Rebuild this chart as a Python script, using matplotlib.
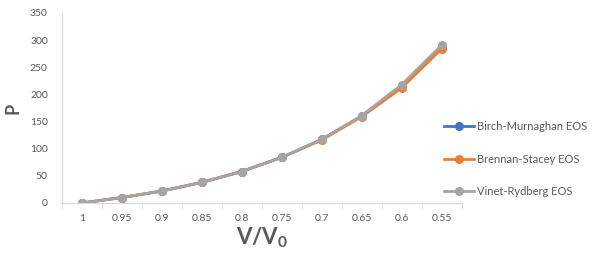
import matplotlib.pyplot as plt
import numpy as np

ratios = ["1", "0.95", "0.9", "0.85", "0.8", "0.75", "0.7", "0.65", "0.6", "0.55"]
birch = [0, 10, 22, 38, 58, 84, 117, 160, 216, 289]
brennan = [0, 10, 22, 38, 58, 84, 116, 159, 212, 284]
vinet = [0, 10, 22, 38, 58, 84, 117, 161, 218, 291]

series = [
    ("Birch-Murnaghan EOS", birch, "#4472c4"),
    ("Brennan-Stacey EOS", brennan, "#ed7d31"),
    ("Vinet-Rydberg EOS", vinet, "#a5a5a5"),
]

plt.rcParams["font.family"] = ["Lato", "DejaVu Sans"]

fig = plt.figure(figsize=(5.94, 2.57), dpi=100)
ax = fig.add_axes([61.7 / 594, 1 - 203 / 257, 400 / 594, 190 / 257])

x = np.arange(len(ratios))
for name, vals, col in series:
    ax.plot(x, vals, color=col, lw=2, marker="o", ms=5.5, label=name)

ax.set_xlim(-0.5, len(ratios) - 0.5)
ax.set_ylim(0, 350)
ax.set_yticks(range(0, 351, 50))
ax.set_xticks(x)
ax.set_xticklabels(ratios)
ax.set_xticks(np.arange(-0.5, len(ratios), 1), minor=True)
ax.tick_params(axis="x", which="major", length=0, pad=8, labelsize=7.5, labelcolor="#595959")
ax.tick_params(axis="x", which="minor", length=4, color="#d9d9d9", direction="out")
ax.tick_params(axis="y", length=0, pad=10, labelsize=7.5, labelcolor="#595959")

for s in ["top", "right"]:
    ax.spines[s].set_visible(False)
for s in ["left", "bottom"]:
    ax.spines[s].set_color("#d9d9d9")

ax.set_xlabel("V/V$_\\mathregular{0}$", fontsize=16, fontweight="bold", color="#595959", labelpad=2)
ax.set_ylabel("P", fontsize=13, fontweight="bold", color="#595959", labelpad=6)

fig.legend(loc="upper left", bbox_to_anchor=(444 / 594, 1 - 121 / 257), frameon=False,
           borderaxespad=0, borderpad=0,
           fontsize=8, labelcolor="#595959", handlelength=2.7, labelspacing=1.95,
           handletextpad=0.3)

plt.savefig("out.png", dpi=100)
